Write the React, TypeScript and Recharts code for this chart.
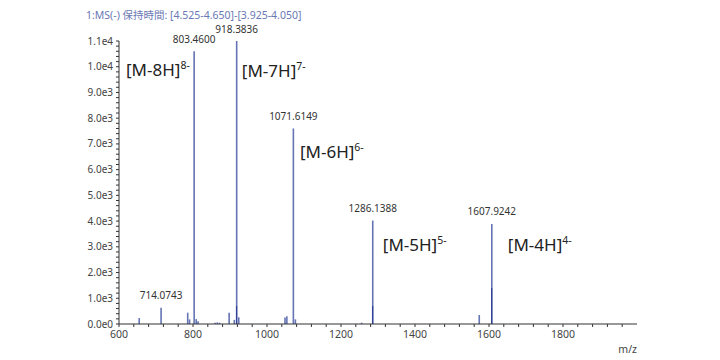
import React from 'react';
import { ComposedChart, Bar, XAxis, YAxis, LabelList, ReferenceDot } from 'recharts';

// peak positions (m/z), total intensities, and the darker overlapping part at the base
const peakMz = [
  655, 714.0743, 786, 791, 803.46, 809, 814,
  860, 866, 872, 898, 912, 918.3836, 924,
  1049, 1054, 1071.6149, 1077, 1256, 1286.1388,
  1574, 1607.9242,
];
const peakIntensity = [
  230, 634, 440, 180, 10600, 190, 110,
  50, 60, 50, 440, 160, 11000, 260,
  250, 300, 7600, 180, 50, 4020,
  350, 3890,
];
const peakCore = [
  0, 0, 0, 0, 0, 0, 0,
  0, 0, 0, 0, 0, 700, 0,
  0, 0, 0, 0, 0, 700,
  0, 1400,
];
const peakLabels: Record<number, string> = {
  714.0743: '714.0743',
  803.46: '803.4600',
  918.3836: '918.3836',
  1071.6149: '1071.6149',
  1286.1388: '1286.1388',
  1607.9242: '1607.9242',
};

// ion annotations: name, charge, anchor m/z and intensity level of text baseline
const ionNames = ['M-8H', 'M-7H', 'M-6H', 'M-5H', 'M-4H'];
const ionCharges = ['8-', '7-', '6-', '5-', '4-'];
const ionMz = [619, 932, 1089, 1313, 1651];
const ionLevel = [9650, 9610, 6460, 2840, 2840];

const xTicks = Array.from({ length: 35 }, (_, i) => 600 + i * 40);
const yTicks = Array.from({ length: 56 }, (_, i) => i * 200);

const data = peakMz.map((mz, i) => ({
  mz,
  core: peakCore[i],
  rest: peakIntensity[i] - peakCore[i],
  label: peakLabels[mz] ?? '',
}));

const FONT = '"Noto Sans", sans-serif';
const PEAK = '#6474b4';
const PEAK_DARK = '#33439a';

const fmtY = (v: number) => (v % 1000 === 0 ? v.toExponential(1).replace('e+', 'e') : '');
const fmtX = (v: number) => (v % 200 === 0 ? String(v) : '');

const PeakLabel = (props: any) => {
  const { x, y, width, value } = props;
  if (!value) return null;
  return (
    <text x={x + width / 2} y={y - 8.5} textAnchor="middle" fontSize={10} fill="#333" fontFamily={FONT}>
      {value}
    </text>
  );
};

const IonLabel = (name: string, charge: string) => (props: any) => {
  const { viewBox } = props;
  const cx = viewBox.x + (viewBox.width || 0) / 2;
  const cy = viewBox.y + (viewBox.height || 0) / 2;
  return (
    <text x={cx} y={cy} fontSize={17} fill="#222" fontFamily={FONT}>
      <tspan>[{name}]</tspan>
      <tspan dy={-7} fontSize={10.5}>{charge}</tspan>
    </text>
  );
};

const AxisName = (props: any) => {
  const { viewBox } = props;
  return (
    <text x={viewBox.x + viewBox.width} y={353} textAnchor="end" fontSize={10.5} fill="#444" fontFamily={FONT}>
      m/z
    </text>
  );
};

export default function App() {
  return (
    <div style={{ position: 'absolute', left: 0, top: 0, width: 720, height: 360, background: '#fff' }}>
      <div
        style={{
          position: 'absolute',
          left: 86,
          top: 7,
          fontSize: 10.5,
          color: '#6a78b4',
          fontFamily: '"Noto Sans", "Noto Sans CJK JP", sans-serif',
          whiteSpace: 'nowrap',
        }}
      >
        1:MS(-) 保持時間: [4.525-4.650]-[3.925-4.050]
      </div>
      <ComposedChart width={720} height={360} data={data} margin={{ top: 41, right: 83, bottom: 0, left: 0 }}>
        <XAxis
          dataKey="mz"
          type="number"
          domain={[600, 2000]}
          ticks={xTicks}
          interval={0}
          tickFormatter={fmtX}
          tickSize={3}
          tickMargin={4}
          height={36}
          stroke="#333"
          tick={{ fontSize: 10.5, fill: '#444', fontFamily: FONT }}
          label={{ content: AxisName }}
        />
        <YAxis
          type="number"
          domain={[0, 11000]}
          ticks={yTicks}
          interval={0}
          tickFormatter={fmtY}
          tickSize={3}
          tickMargin={3}
          width={119}
          stroke="#333"
          tick={{ fontSize: 10, fill: '#444', fontFamily: FONT }}
        />
        <Bar dataKey="core" stackId="peak" barSize={1.6} fill={PEAK_DARK} isAnimationActive={false} />
        <Bar dataKey="rest" stackId="peak" barSize={1.6} fill={PEAK} isAnimationActive={false}>
          <LabelList dataKey="label" content={PeakLabel} />
        </Bar>
        {ionNames.map((n, i) => (
          <ReferenceDot
            key={n}
            x={ionMz[i]}
            y={ionLevel[i]}
            r={0}
            stroke="none"
            fill="none"
            label={{ content: IonLabel(n, ionCharges[i]) }}
          />
        ))}
      </ComposedChart>
    </div>
  );
}
